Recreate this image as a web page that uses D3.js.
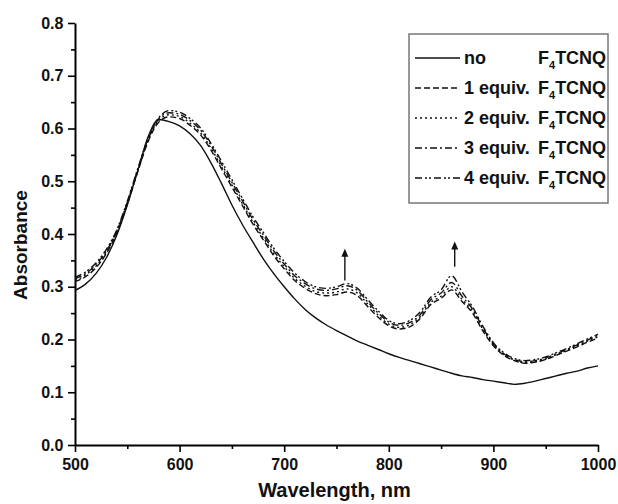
<!DOCTYPE html>
<html>
<head>
<meta charset="utf-8">
<script src="https://cdn.jsdelivr.net/npm/d3@7"></script>
<style>
  body { margin: 0; background: #fff; }
  text { font-family: "Liberation Sans", Arial, sans-serif; font-weight: bold; fill: #111; }
</style>
</head>
<body>
<svg id="chart" width="618" height="504"></svg>
<script>
var wavelengths = [500,510,520,530,540,550,560,570,580,590,600,610,620,630,640,650,660,670,680,690,700,
    710,720,730,740,750,760,770,780,790,800,810,820,830,840,850,860,870,880,890,900,
    910,920,930,940,950,960,970,980,990,1000];

var noF4 = [.293,.305,.325,.355,.398,.455,.520,.585,.617,.613,.605,.590,.568,.535,.496,.455,.418,.385,.353,.325,.300,
    .277,.257,.241,.228,.217,.207,.197,.189,.181,.173,.166,.160,.154,.148,.142,.136,.131,.128,.124,.121,
    .118,.115,.117,.121,.126,.131,.136,.140,.146,.150];
var eq1 = [.310,.319,.336,.363,.402,.456,.518,.576,.612,.622,.619,.606,.588,.559,.524,.489,.454,.419,.389,.359,.334,
    .312,.297,.287,.283,.285,.290,.283,.262,.242,.226,.220,.224,.240,.266,.278,.294,.272,.250,.216,.188,
    .170,.160,.155,.157,.162,.170,.178,.186,.195,.203];
var eq2 = [.312,.322,.339,.366,.404,.458,.520,.578,.615,.626,.623,.610,.592,.563,.528,.493,.458,.423,.393,.363,.338,
    .316,.301,.291,.288,.290,.296,.288,.267,.246,.229,.223,.228,.243,.270,.282,.300,.276,.254,.219,.190,
    .171,.161,.156,.158,.163,.171,.179,.188,.197,.205];
var eq3 = [.315,.325,.342,.368,.406,.460,.522,.580,.618,.630,.627,.615,.597,.568,.533,.498,.463,.428,.398,.368,.343,
    .321,.306,.296,.293,.296,.302,.293,.271,.250,.233,.227,.232,.247,.275,.288,.308,.282,.258,.222,.192,
    .173,.162,.158,.160,.165,.173,.181,.190,.199,.208];
var eq4 = [.318,.328,.345,.371,.408,.462,.524,.582,.620,.634,.631,.619,.601,.572,.538,.503,.468,.433,.403,.373,.348,
    .326,.310,.300,.297,.300,.306,.297,.275,.254,.236,.230,.236,.252,.280,.294,.321,.290,.262,.225,.194,
    .175,.164,.160,.162,.167,.175,.183,.192,.201,.210];

var seriesNames = ["no", "1 equiv.", "2 equiv.", "3 equiv.", "4 equiv."];
var seriesValues = [noF4, eq1, eq2, eq3, eq4];
var dashes = [null, "6,3", "2,3", "7,3,2,3", "7,3,2,2,2,3"];

var xTicks = [500, 600, 700, 800, 900, 1000];
var yTicks = [0.0, 0.1, 0.2, 0.3, 0.4, 0.5, 0.6, 0.7, 0.8];

// arrows marking growth of the new bands
var arrowX = [758, 863];
var arrowFrom = [0.312, 0.338];
var arrowTo = [0.372, 0.386];

var margin = {top: 23, left: 75, right: 20, bottom: 59};
var width = 598 - margin.left;
var height = 445 - margin.top;

var svg = d3.select("#chart");
var g = svg.append("g").attr("transform", "translate(" + margin.left + "," + margin.top + ")");

var x = d3.scaleLinear().domain([500, 1000]).range([0, width]);
var y = d3.scaleLinear().domain([0, 0.8]).range([height, 0]);

// minor ticks first
g.append("g")
    .attr("transform", "translate(0," + height + ")")
    .call(d3.axisBottom(x).tickValues(d3.range(550, 1000, 100)).tickSize(4).tickFormat(""))
    .call(function(a){ a.select(".domain").remove(); a.selectAll("line").attr("stroke-width", 1.6); });
g.append("g")
    .call(d3.axisLeft(y).tickValues(d3.range(0.05, 0.8, 0.1)).tickSize(4).tickFormat(""))
    .call(function(a){ a.select(".domain").remove(); a.selectAll("line").attr("stroke-width", 1.6); });

var xAxis = g.append("g")
    .attr("transform", "translate(0," + height + ")")
    .call(d3.axisBottom(x).tickValues(xTicks).tickSize(7).tickSizeOuter(0).tickFormat(d3.format("d")));
var yAxis = g.append("g")
    .call(d3.axisLeft(y).tickValues(yTicks).tickSize(7).tickSizeOuter(0).tickFormat(d3.format(".1f")));

[xAxis, yAxis].forEach(function(a){
    a.select(".domain").attr("stroke-width", 2);
    a.selectAll(".tick line").attr("stroke-width", 1.6);
    a.selectAll(".tick text")
        .style("font-size", "16px")
        .style("font-family", "'Liberation Sans', Arial, sans-serif")
        .style("font-weight", "bold")
        .attr("fill", "#111");
});
xAxis.selectAll(".tick text").attr("dy", "0.95em");
yAxis.selectAll(".tick text").attr("dx", "-0.1em");

// curves
var line = d3.line()
    .x(function(d, i) { return x(wavelengths[i]); })
    .y(function(d) { return y(d); })
    .curve(d3.curveMonotoneX);

seriesValues.forEach(function(vals, k){
    g.append("path")
        .datum(vals)
        .attr("fill", "none")
        .attr("stroke", "#111")
        .attr("stroke-width", 1.4)
        .attr("stroke-dasharray", dashes[k])
        .attr("d", line);
});

// arrows
arrowX.forEach(function(w, i){
    g.append("line")
        .attr("x1", x(w)).attr("x2", x(w))
        .attr("y1", y(arrowFrom[i])).attr("y2", y(arrowTo[i]) + 6)
        .attr("stroke", "#111").attr("stroke-width", 1.4);
    g.append("path")
        .attr("d", "M" + (x(w) - 3.5) + "," + (y(arrowTo[i]) + 8) + "L" + x(w) + "," + y(arrowTo[i]) +
              "L" + (x(w) + 3.5) + "," + (y(arrowTo[i]) + 8) + "Z")
        .attr("fill", "#111");
});

// axis titles
svg.append("text")
    .attr("x", margin.left + width / 2 - 2)
    .attr("y", 497)
    .attr("text-anchor", "middle")
    .style("font-size", "20px")
    .text("Wavelength, nm");
svg.append("text")
    .attr("transform", "translate(27," + (margin.top + height / 2 + 11) + ") rotate(-90)")
    .attr("text-anchor", "middle")
    .style("font-size", "19px")
    .text("Absorbance");

// legend
var legend = svg.append("g");
legend.append("rect")
    .attr("x", 409).attr("y", 34).attr("width", 199).attr("height", 169)
    .attr("fill", "#fff").attr("stroke", "#777").attr("stroke-width", 1.5);

seriesNames.forEach(function(name, k){
    var ly = 58 + k * 30;
    legend.append("line")
        .attr("x1", 415).attr("x2", 460)
        .attr("y1", ly).attr("y2", ly)
        .attr("stroke", "#111").attr("stroke-width", 1.4)
        .attr("stroke-dasharray", dashes[k]);
    legend.append("text")
        .attr("x", 464).attr("y", ly + 6)
        .style("font-size", "18px")
        .text(name);
    var t = legend.append("text")
        .attr("x", 538).attr("y", ly + 6)
        .style("font-size", "18px");
    t.append("tspan").text("F");
    t.append("tspan").attr("dy", 5).style("font-size", "11px").text("4");
    t.append("tspan").attr("dy", -5).text("TCNQ");
});
</script>
</body>
</html>
